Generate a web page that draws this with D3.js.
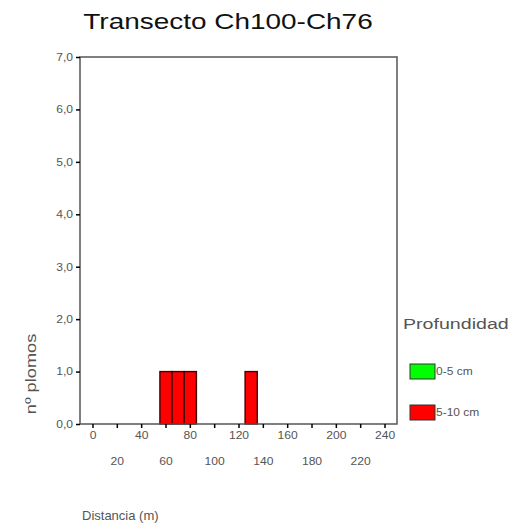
<!DOCTYPE html>
<html>
<head>
<meta charset="utf-8">
<script src="https://cdn.jsdelivr.net/npm/d3@7"></script>
<style>
  html, body { margin: 0; padding: 0; background: #fff; }
  text { font-family: "Liberation Sans", Arial, sans-serif; }
</style>
</head>
<body>
<script>
// ---- data ----
const title = "Transecto Ch100-Ch76";
const distances = [0,10,20,30,40,50,60,70,80,90,100,110,120,130,140,150,160,170,180,190,200,210,220,230,240];
const depth0to5 = [0,0,0,0,0,0,0,0,0,0,0,0,0,0,0,0,0,0,0,0,0,0,0,0,0];
const depth5to10 = [0,0,0,0,0,0,1,1,1,0,0,0,0,1,0,0,0,0,0,0,0,0,0,0,0];
const seriesNames = ["0-5 cm", "5-10 cm"];
const seriesColors = ["#00ff00", "#ff0000"];
const yTicks = [0,1,2,3,4,5,6,7];
const xTickLabels = [0,20,40,60,80,100,120,140,160,180,200,220,240];
const yLabel = "nº plomos";
const xLabel = "Distancia (m)";
const legendTitle = "Profundidad";

const W = 519, H = 531;
const svg = d3.select("body").append("svg").attr("width", W).attr("height", H);

const frame = {left: 80, right: 397, top: 57, bottom: 424};

const x = d3.scaleBand().domain(distances)
  .range([86.9, 391.1]).paddingInner(0).paddingOuter(0);
const y = d3.scaleLinear().domain([0, 7]).range([frame.bottom, frame.top]);

function stretch(sel, factor) {
  sel.each(function() {
    const len = this.getComputedTextLength();
    d3.select(this).attr("textLength", len * factor).attr("lengthAdjust", "spacingAndGlyphs");
  });
  return sel;
}

// title
svg.append("text").attr("x", 228).attr("y", 29).attr("text-anchor", "middle")
  .attr("font-size", 22).attr("fill", "#111").text(title)
  .call(stretch, 1.27);

// bars (stacked)
const stacked = distances.map((d, i) => ({d, a: depth0to5[i], b: depth5to10[i]}));
const g = svg.append("g");
stacked.forEach(s => {
  if (s.a > 0) {
    g.append("rect").attr("x", x(s.d)).attr("width", x.bandwidth())
      .attr("y", y(s.a)).attr("height", y(0) - y(s.a))
      .attr("fill", seriesColors[0]).attr("stroke", "#300").attr("stroke-width", 1);
  }
  if (s.b > 0) {
    g.append("rect").attr("x", x(s.d)).attr("width", x.bandwidth())
      .attr("y", y(s.a + s.b)).attr("height", y(s.a) - y(s.a + s.b))
      .attr("fill", seriesColors[1]).attr("stroke", "#400").attr("stroke-width", 1.4);
  }
});

// frame
svg.append("rect").attr("x", frame.left).attr("y", frame.top)
  .attr("width", frame.right - frame.left).attr("height", frame.bottom - frame.top)
  .attr("fill", "none").attr("stroke", "#555").attr("stroke-width", 1.5);

// y axis
const yAxis = d3.axisLeft(y).tickValues(yTicks).tickSize(4).tickPadding(3)
  .tickFormat(d => d3.format(".1f")(d).replace(".", ","));
const ya = svg.append("g").attr("transform", `translate(${frame.left},0)`).call(yAxis);
ya.select(".domain").remove();
ya.selectAll(".tick line").attr("stroke", "#000").attr("stroke-width", 1.5);
ya.selectAll(".tick text").attr("font-size", 10.5).attr("fill", "#555")
  .style("font-family", "Liberation Sans, Arial, sans-serif")
  .call(stretch, 1.15);

// x axis
const xAxis = d3.axisBottom(x).tickValues(xTickLabels).tickSize(4).tickPadding(3);
const xa = svg.append("g").attr("transform", `translate(0,${frame.bottom})`).call(xAxis);
xa.select(".domain").remove();
xa.selectAll(".tick line").attr("stroke", "#000").attr("stroke-width", 1.5);
xa.selectAll(".tick text").attr("font-size", 11).attr("fill", "#555")
  .style("font-family", "Liberation Sans, Arial, sans-serif")
  .attr("dy", (d, i) => i % 2 === 0 ? "0.71em" : "3.05em")
  .call(stretch, 1.1);

// axis titles
svg.append("text").attr("transform", "translate(36,374) rotate(-90)")
  .attr("text-anchor", "middle").attr("font-size", 14).attr("fill", "#555").text(yLabel)
  .call(stretch, 1.3);
svg.append("text").attr("x", 82).attr("y", 520)
  .attr("font-size", 13).attr("fill", "#555").text(xLabel);

// legend
svg.append("text").attr("x", 403).attr("y", 329).attr("font-size", 14).attr("fill", "#555").text(legendTitle)
  .call(stretch, 1.4);
seriesNames.forEach((n, i) => {
  const yy = 364 + i * 41;
  svg.append("rect").attr("x", 410).attr("y", yy).attr("width", 25).attr("height", 15)
    .attr("fill", seriesColors[i]).attr("stroke", "#333").attr("stroke-width", 1);
  svg.append("text").attr("x", 436).attr("y", yy + 11).attr("font-size", 10)
    .attr("fill", "#555").text(n).call(stretch, 1.2);
});
</script>
</body>
</html>
